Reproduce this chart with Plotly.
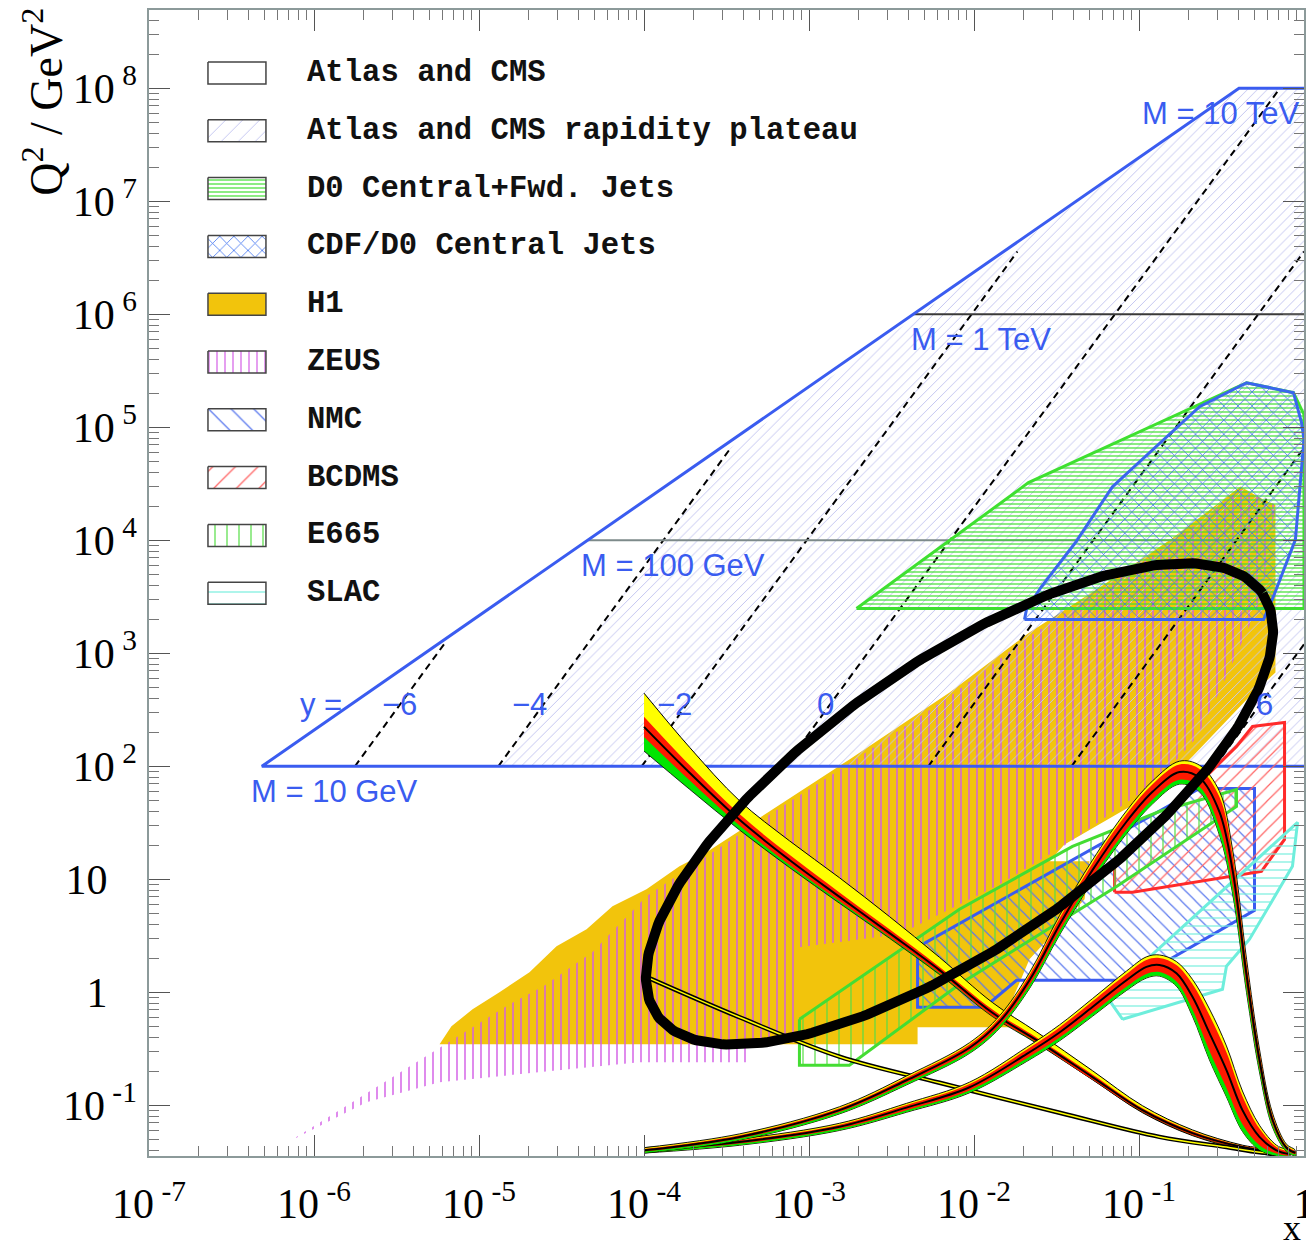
import numpy as np
import plotly.graph_objects as go

# ---------------------------------------------------------------- axes
NB = "\u00a0"
X_TICK_EXP = [-7, -6, -5, -4, -3, -2, -1, 0]
X_TICK_LABELS = ["10<sup>" + NB + "-7</sup>", "10<sup>" + NB + "-6</sup>", "10<sup>" + NB + "-5</sup>",
                 "10<sup>" + NB + "-4</sup>", "10<sup>" + NB + "-3</sup>", "10<sup>" + NB + "-2</sup>",
                 "10<sup>" + NB + "-1</sup>", "1"]
Y_TICK_EXP = [-1, 0, 1, 2, 3, 4, 5, 6, 7, 8]
Y_TICK_LABELS = ["10<sup>" + NB + "-1</sup>", "1<sup>" + NB * 4 + "</sup>",
                 "10<sup>" + NB * 4 + "</sup>", "10<sup>" + NB + "2</sup>",
                 "10<sup>" + NB + "3</sup>", "10<sup>" + NB + "4</sup>", "10<sup>" + NB + "5</sup>",
                 "10<sup>" + NB + "6</sup>", "10<sup>" + NB + "7</sup>", "10<sup>" + NB + "8</sup>"]

# ------------------------------------------- LHC reach (log10 x, log10 Q^2)
LHC_EDGE_LOGX = [0.0, -0.394, -6.316, 0.0]
LHC_EDGE_LOGQ2 = [8.0, 8.0, 2.0, 2.0]
PLATEAU_LOGX = [-4.883, -3.474, -0.394, 0.0, 0.0]
PLATEAU_LOGQ2 = [2.0, 4.818, 8.0, 8.0, 2.0]

# lines of constant rapidity y
RAPIDITY = [-6, -4, -2, 0, 2, 4, 6]
RAP_LOGX_LO = [-5.752, -4.883, -4.014, -3.146, -2.277, -1.409, -0.540]
RAP_LOGQ2_LO = [2.0, 2.0, 2.0, 2.0, 2.0, 2.0, 2.0]
RAP_LOGX_HI = [-5.212, -3.474, -1.737, -0.146, 0.0, 0.0, 0.0]
RAP_LOGQ2_HI = [3.080, 4.818, 6.555, 8.0, 6.555, 4.818, 3.080]

# lines of constant mass
MASS_LABELS = ["M = 10 GeV", "M = 100 GeV", "M = 1 TeV", "M = 10 TeV"]
MASS_LOGQ2 = [2.0, 4.0, 6.0, 8.0]
MASS_LOGX_START = [-6.316, -4.342, -2.368, -0.394]

# ------------------------------------------------ measured regions
H1_LOGX = [-5.239, -5.167, -5.039, -4.876, -4.694, -4.530, -4.348, -4.191, -3.985, -3.785,
           -3.621, -3.221, -2.755, -2.148, -1.664, -1.239, -0.809, -0.385, -0.245, -0.173,
           -0.173, -0.330, -0.676, -0.876, -1.136, -1.452, -1.542, -1.300, -1.330, -1.664,
           -1.767, -1.785, -2.342, -2.342]
H1_LOGQ2 = [-0.459, -0.300, -0.150, 0.001, 0.178, 0.408, 0.558, 0.761, 0.913, 1.115,
            1.239, 1.619, 2.061, 2.653, 3.184, 3.582, 4.006, 4.475, 4.359, 4.315,
            2.830, 2.618, 2.087, 1.795, 1.574, 1.309, 1.159, 1.159, 0.824, 0.293,
            -0.061, -0.309, -0.309, -0.459]

ZEUS_LOGX = [-6.148, -5.209, -4.815, -4.609, -4.312, -3.985, -3.621, -3.221, -2.755, -2.148,
             -1.664, -1.239, -0.809, -0.385, -0.173, -0.258, -0.506, -0.645, -0.876, -1.179,
             -1.421, -1.845, -2.452, -3.058, -3.076, -3.361, -3.361, -4.027, -5.239, -5.682]
ZEUS_LOGQ2 = [-1.317, -0.468, -0.105, 0.054, 0.356, 0.850, 1.204, 1.592, 2.026, 2.618,
              3.148, 3.546, 3.971, 4.447, 4.316, 3.476, 2.680, 2.264, 1.884, 1.574,
              1.326, 0.955, 0.515, 0.400, -0.442, -0.459, -0.618, -0.618, -0.795, -0.972]

D0_LOGX = [-2.712, -1.670, -0.348, -0.064, 0.0, 0.0]
D0_LOGQ2 = [3.396, 4.510, 5.394, 5.306, 5.111, 3.396]

CDF_LOGX = [-1.694, -1.682, -1.591, -1.385, -1.161, -0.936, -0.633, -0.348, -0.064, -0.015,
            0.0, -0.052, -0.185, -0.245]
CDF_LOGQ2 = [3.298, 3.387, 3.591, 3.980, 4.474, 4.776, 5.182, 5.394, 5.306, 5.041,
             4.891, 4.006, 3.503, 3.298]

NMC_LOGX = [-2.342, -2.342, -1.936, -1.742, -1.033, -0.300, -0.300, -0.633]
NMC_LOGQ2 = [0.400, -0.132, -0.132, 0.107, 0.107, 0.726, 1.804, 1.804]

BCDMS_LOGX = [-1.148, -1.148, -0.409, -0.312, -0.118, -0.118, -0.258, -1.039]
BCDMS_LOGQ2 = [0.885, 1.115, 2.176, 2.352, 2.388, 1.353, 1.070, 0.885]

E665_LOGX = [-3.058, -3.058, -2.755, -2.088, -1.136, -0.409, -0.409, -0.876, -1.403, -2.088]
E665_LOGQ2 = [-0.238, -0.645, -0.645, 0.072, 0.937, 1.645, 1.795, 1.600, 1.292, 0.735]

SLAC_LOGX = [-1.100, -1.197, -0.039, -0.070, -0.330, -0.470, -0.494]
SLAC_LOGQ2 = [-0.238, -0.034, 1.504, 1.115, 0.470, 0.231, 0.027]

# ------------------------------------- parton densities x f(x) (inset scale)
GLU_LOGX = [-4.0, -3.724, -3.421, -3.118, -2.815, -2.512, -2.209, -1.888, -1.621, -1.282,
            -0.979, -0.676, -0.373, -0.148]
GLU = [0.674, 0.602, 0.528, 0.465, 0.407, 0.350, 0.292, 0.225, 0.182, 0.124,
       0.072, 0.036, 0.014, 0.005]
GLU_YEL_UP = [0.053, 0.040, 0.030, 0.030, 0.030, 0.026, 0.020, 0.016, 0.013, 0.010,
              0.007, 0.005, 0.003, 0.002]
GLU_GRN_DN = [0.038, 0.026, 0.016, 0.012, 0.010, 0.008, 0.007, 0.006, 0.005, 0.004,
              0.003, 0.003, 0.002, 0.002]
GLU_RED = [0.016, 0.012, 0.009, 0.008, 0.007, 0.006, 0.005, 0.005, 0.004, 0.004,
           0.003, 0.003, 0.002, 0.002]

SEA_LOGX = [-4.0, -3.421, -2.815, -2.209, -1.482, -0.876, -0.470, -0.270, -0.118]
SEA = [0.283, 0.218, 0.156, 0.115, 0.068, 0.030, 0.014, 0.006, 0.003]

UV_LOGX = [-4.0, -3.421, -2.815, -2.409, -2.027, -1.845, -1.664, -1.482, -1.282, -1.076,
           -0.918, -0.755, -0.633, -0.512, -0.433, -0.348, -0.270, -0.191, -0.106, -0.052]
UV = [0.009, 0.030, 0.072, 0.119, 0.170, 0.211, 0.276, 0.363, 0.449, 0.525,
      0.572, 0.603, 0.594, 0.540, 0.449, 0.284, 0.151, 0.057, 0.013, 0.005]
UV_ERR = [0.002, 0.0025, 0.003, 0.004, 0.005, 0.006, 0.008, 0.010, 0.011, 0.012,
          0.012, 0.012, 0.014, 0.024, 0.024, 0.018, 0.012, 0.007, 0.003, 0.002]

DV_LOGX = [-4.0, -3.421, -2.815, -2.409, -2.027, -1.682, -1.482, -1.282, -1.076, -0.955,
           -0.876, -0.773, -0.676, -0.573, -0.470, -0.373, -0.270, -0.167, -0.088]
DV = [0.009, 0.022, 0.046, 0.076, 0.108, 0.160, 0.194, 0.234, 0.276, 0.297,
      0.300, 0.287, 0.250, 0.193, 0.135, 0.072, 0.030, 0.009, 0.003]
DV_ERR = [0.002, 0.0025, 0.003, 0.004, 0.005, 0.007, 0.008, 0.009, 0.010, 0.011,
          0.011, 0.013, 0.020, 0.028, 0.028, 0.022, 0.013, 0.005, 0.002]

LEGEND_LABELS = ["Atlas and CMS", "Atlas and CMS rapidity plateau", "D0 Central+Fwd. Jets",
                 "CDF/D0 Central Jets", "H1", "ZEUS", "NMC", "BCDMS", "E665", "SLAC"]

# ---------------------------------------------------------------- styles
BLUE = "#3a5cf0"
H1_COL = "#f2c40c"
PAT_PLATEAU = dict(shape="/", fgcolor="#c3c5f0", bgcolor="rgba(0,0,0,0)", size=7, solidity=0.14)
PAT_D0 = dict(shape="-", fgcolor="#3ee030", bgcolor="rgba(0,0,0,0)", size=4, solidity=0.3)
PAT_CDF = dict(shape="x", fgcolor="#3a6ff0", bgcolor="rgba(0,0,0,0)", size=10, solidity=0.14)
PAT_ZEUS = dict(shape="|", fgcolor="#d35de6", bgcolor="rgba(0,0,0,0)", size=8, solidity=0.18)
PAT_NMC = dict(shape="\\", fgcolor="#5a78ee", bgcolor="rgba(0,0,0,0)", size=10, solidity=0.12)
PAT_BCDMS = dict(shape="/", fgcolor="#ff6464", bgcolor="rgba(0,0,0,0)", size=10, solidity=0.12)
PAT_E665 = dict(shape="|", fgcolor="#55dd44", bgcolor="rgba(0,0,0,0)", size=12, solidity=0.1)
PAT_SLAC = dict(shape="-", fgcolor="#77eedd", bgcolor="rgba(0,0,0,0)", size=8, solidity=0.15)


def decades(vals):
    return [None if v is None else 10.0 ** v for v in vals]


fig = go.Figure()


def add_region(lx, lq, fillcolor=None, pattern=None, edge=None, edge_w=0.0):
    xs = decades(list(lx) + [lx[0]])
    ys = decades(list(lq) + [lq[0]])
    tr = dict(x=xs, y=ys, mode="lines", fill="toself", hoverinfo="skip",
              line=dict(color=edge or "rgba(0,0,0,0)", width=edge_w))
    if pattern is not None:
        tr["fillpattern"] = pattern
        tr["fillcolor"] = "rgba(0,0,0,0)"
    else:
        tr["fillcolor"] = fillcolor
    fig.add_trace(go.Scatter(**tr))


# HERA regions underneath everything else
add_region(H1_LOGX, H1_LOGQ2, fillcolor=H1_COL)
add_region(ZEUS_LOGX, ZEUS_LOGQ2, pattern=PAT_ZEUS)

# rapidity plateau hatch
add_region(PLATEAU_LOGX, PLATEAU_LOGQ2, pattern=PAT_PLATEAU)

# dashed lines of constant rapidity
dx, dy = [], []
for i in range(len(RAPIDITY)):
    dx += [RAP_LOGX_LO[i], RAP_LOGX_HI[i], None]
    dy += [RAP_LOGQ2_LO[i], RAP_LOGQ2_HI[i], None]
fig.add_trace(go.Scatter(x=decades(dx), y=decades(dy), mode="lines", hoverinfo="skip",
                         line=dict(color="black", width=2, dash="7px,5px")))

# constant-mass lines at 100 GeV and 1 TeV
fig.add_trace(go.Scatter(x=decades([MASS_LOGX_START[1], 0.0]), y=decades([MASS_LOGQ2[1]] * 2),
                         mode="lines", hoverinfo="skip", line=dict(color="#7d8a8a", width=2)))
fig.add_trace(go.Scatter(x=decades([MASS_LOGX_START[2], 0.0]), y=decades([MASS_LOGQ2[2]] * 2),
                         mode="lines", hoverinfo="skip", line=dict(color="#3a3a3a", width=2)))

# kinematic boundary of the LHC
fig.add_trace(go.Scatter(x=decades(LHC_EDGE_LOGX), y=decades(LHC_EDGE_LOGQ2), mode="lines",
                         hoverinfo="skip", line=dict(color=BLUE, width=3)))

# Tevatron jets
add_region(D0_LOGX, D0_LOGQ2, pattern=PAT_D0, edge="#3ee030", edge_w=3)
add_region(CDF_LOGX, CDF_LOGQ2, pattern=PAT_CDF, edge="#3a66ee", edge_w=3)

# fixed target
add_region(NMC_LOGX, NMC_LOGQ2, pattern=PAT_NMC, edge="#3a5cf0", edge_w=3)
add_region(BCDMS_LOGX, BCDMS_LOGQ2, pattern=PAT_BCDMS, edge="#ff2a2a", edge_w=3)
add_region(E665_LOGX, E665_LOGQ2, pattern=PAT_E665, edge="#44dd33", edge_w=3)
add_region(SLAC_LOGX, SLAC_LOGQ2, pattern=PAT_SLAC, edge="#6eeedc", edge_w=3)

# ------------------------------------------------ parton densities (y2)


def band(xs, lo, hi, color, edge_w=0.0):
    fig.add_trace(go.Scatter(x=list(xs) + list(xs)[::-1], y=list(hi) + list(lo)[::-1], yaxis="y2",
                             mode="lines", fill="toself", fillcolor=color, hoverinfo="skip",
                             line=dict(color="black", width=edge_w, shape="spline", smoothing=1.0)))


def centre(xs, vals, w=2.0):
    fig.add_trace(go.Scatter(x=xs, y=vals, yaxis="y2", mode="lines", hoverinfo="skip",
                             line=dict(color="black", width=w, shape="spline", smoothing=1.0)))


# gluon
gx = decades(GLU_LOGX)
g = np.array(GLU)
band(gx, g - 0.004, g + np.array(GLU_YEL_UP), "#ffff00", 1.0)
band(gx, g - np.array(GLU_GRN_DN), g, "#00e600", 0.8)
band(gx, g - np.array(GLU_RED), g + np.array(GLU_RED), "#ff1a00", 0.0)
centre(gx, GLU)

# sea
sx = decades(SEA_LOGX)
fig.add_trace(go.Scatter(x=sx, y=SEA, yaxis="y2", mode="lines", hoverinfo="skip",
                         line=dict(color="black", width=4.5, shape="spline", smoothing=1.0)))
fig.add_trace(go.Scatter(x=sx, y=SEA, yaxis="y2", mode="lines", hoverinfo="skip",
                         line=dict(color="#ffff00", width=1.5, shape="spline", smoothing=1.0)))

# valence quarks
for lx, vals, err in [(DV_LOGX, DV, DV_ERR), (UV_LOGX, UV, UV_ERR)]:
    xs = decades(lx)
    c = np.array(vals)
    e = np.array(err)
    band(xs, c - 1.45 * e - 0.0015, c + 1.3 * e + 0.0015, "#ffff00", 0.9)
    band(xs, c - 1.45 * e - 0.0012, c, "#00e600", 0.0)
    band(xs, c - e, c + e, "#ff1a00", 0.0)
    centre(xs, vals)

# highlight ring
t = np.linspace(0, 2 * np.pi, 361)
ring_lx = -2.088 + 1.836 * np.cos(t) + 0.491 * np.sin(t)
ring_v = 0.553 + 0.3308 * np.cos(t) - 0.1831 * np.sin(t)
fig.add_trace(go.Scatter(x=10.0 ** ring_lx, y=ring_v, yaxis="y2", mode="lines",
                         hoverinfo="skip", line=dict(color="black", width=10)))

# ------------------------------------------------ key (x3/y3 in panel pixels)
key_styles = [
    dict(fillcolor="white"),
    dict(pattern=dict(PAT_PLATEAU, size=12, solidity=0.08)),
    dict(pattern=dict(PAT_D0, size=4, solidity=0.3)),
    dict(pattern=dict(PAT_CDF, size=10, solidity=0.15)),
    dict(fillcolor=H1_COL),
    dict(pattern=dict(PAT_ZEUS, size=8, solidity=0.15)),
    dict(pattern=dict(PAT_NMC, size=16, solidity=0.08)),
    dict(pattern=dict(PAT_BCDMS, size=16, solidity=0.08)),
    dict(pattern=dict(PAT_E665, size=12, solidity=0.1)),
    dict(pattern=dict(PAT_SLAC, size=12, solidity=0.1)),
]
annotations = []
for i, (label, st) in enumerate(zip(LEGEND_LABELS, key_styles)):
    cy = 73 + i * 57.8
    tr = dict(x=[208, 266, 266, 208, 208], y=[cy - 11, cy - 11, cy + 11, cy + 11, cy - 11],
              xaxis="x3", yaxis="y3", mode="lines", fill="toself", hoverinfo="skip",
              line=dict(color="#444444", width=1.5))
    if "pattern" in st:
        tr["fillpattern"] = st["pattern"]
        tr["fillcolor"] = "rgba(0,0,0,0)"
    else:
        tr["fillcolor"] = st["fillcolor"]
    fig.add_trace(go.Scatter(**tr))
    annotations.append(dict(x=305, y=cy, xref="x3", yref="y3", text=label, showarrow=False,
                            xanchor="left", yanchor="middle",
                            font=dict(family="Liberation Mono", size=30.6, color="#111111",
                                      weight="bold")))

# labels of mass and rapidity lines
blue_font = dict(family="Liberation Sans", size=31, color=BLUE)
for text, pos in zip(MASS_LABELS, [(-6.391, 1.778), (-4.391, 3.776), (-2.391, 5.775), (-0.997, 7.773)]):
    annotations.append(dict(x=pos[0], y=pos[1], xref="x", yref="y", text=text, showarrow=False,
                            xanchor="left", yanchor="middle", font=blue_font))
annotations.append(dict(x=-6.1, y=2.547, xref="x", yref="y", text="y =", showarrow=False,
                        xanchor="left", yanchor="middle", font=blue_font))
for text, lx in zip(["\u22126", "\u22124", "\u22122", "0", "6"], [-5.482, -4.694, -3.815, -2.9, -0.239]):
    annotations.append(dict(x=lx, y=2.547, xref="x", yref="y", text=text, showarrow=False,
                            xanchor="center", yanchor="middle", font=blue_font))

# axis titles
annotations.append(dict(x=-0.092, y=0.9197, xref="paper", yref="paper", textangle=-90,
                        xanchor="center", yanchor="middle",
                        text="Q<sup>2</sup> / GeV<sup>2</sup>", showarrow=False,
                        font=dict(family="Liberation Serif", size=46, color="black")))
annotations.append(dict(x=0.9895, y=-0.0628, xref="paper", yref="paper", text="x",
                        xanchor="center", yanchor="middle",
                        showarrow=False, font=dict(family="Liberation Serif", size=36, color="black")))

minor_x = [k * 10.0 ** n for n in range(-7, 0) for k in range(2, 10)]
minor_y = [k * 10.0 ** n for n in range(-2, 9) for k in range(2, 10)]

axis_common = dict(type="log", showgrid=False, zeroline=False, showline=True,
                   linecolor="#8c9a9a", linewidth=1.5, mirror="ticks", ticks="inside",
                   ticklen=21, tickwidth=1.3, tickcolor="#555555", automargin=False,
                   ticklabeloverflow="allow",
                   tickfont=dict(family="Liberation Serif", size=42, color="black"))

fig.update_layout(
    width=1306, height=1250,
    margin=dict(l=149, r=2, t=10, b=94),
    paper_bgcolor="white", plot_bgcolor="white",
    template="none", showlegend=False,
    xaxis=dict(axis_common, range=[-7, 0], tickmode="array",
               tickvals=[10.0 ** e for e in X_TICK_EXP], ticktext=X_TICK_LABELS,
               ticklabelstandoff=10,
               minor=dict(tickmode="array", tickvals=minor_x, ticks="inside", ticklen=10,
                          tickwidth=1.2, tickcolor="#777777", showgrid=False)),
    yaxis=dict(axis_common, range=[-1.448, 8.692], tickmode="array",
               tickvals=[10.0 ** e for e in Y_TICK_EXP], ticktext=Y_TICK_LABELS,
               ticklabelstandoff=2,
               minor=dict(tickmode="array", tickvals=minor_y, ticks="inside", ticklen=10,
                          tickwidth=1.2, tickcolor="#777777", showgrid=False)),
    yaxis2=dict(overlaying="y", anchor="x", range=[0, 1.8], visible=False, showgrid=False),
    xaxis3=dict(overlaying="x", anchor="y3", range=[149, 1304.5], visible=False, showgrid=False),
    yaxis3=dict(overlaying="y", anchor="x3", range=[1156, 10], visible=False, showgrid=False),
    annotations=annotations,
)

fig.write_html("out.html")
